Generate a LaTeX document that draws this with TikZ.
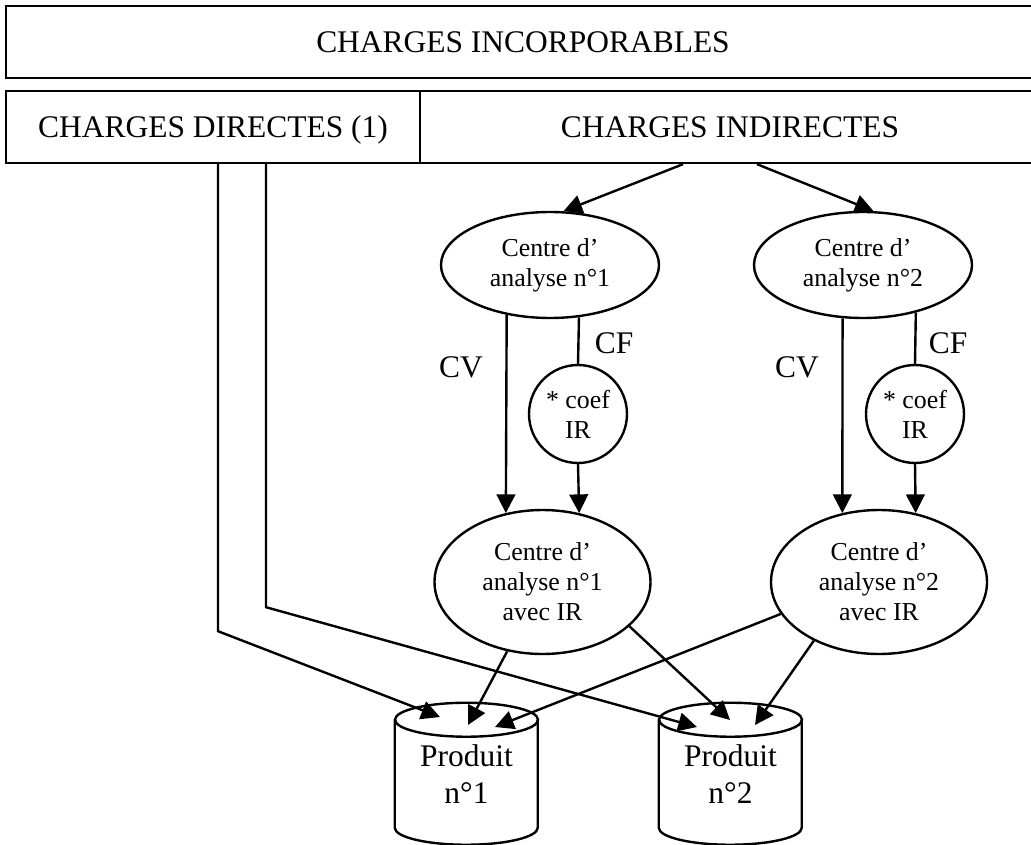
\documentclass[tikz,border=0pt]{standalone}
\usepackage{fontspec}
\setmainfont{Liberation Serif}
\usetikzlibrary{arrows.meta,shapes.geometric,calc}
\newcommand{\textegrand}{\fontsize{23.6}{27.4}\selectfont}
\newcommand{\textepetit}{\fontsize{19.4}{22.5}\selectfont}
\tikzset{
  trait/.style={line width=1.8pt},
  fleche/.style={trait, -{Triangle[length=14pt,width=14pt]}},
  boite/.style={draw, trait, minimum height=54pt, inner sep=0pt, text height=15.6pt, text depth=0pt, font=\textegrand},
  centre/.style={ellipse, draw, trait, inner sep=0pt, align=center, font=\textepetit},
  coef/.style={circle, draw, trait, minimum size=73.5pt, inner sep=0pt, align=center, font=\textepetit},
  produit/.style={minimum width=107.25pt, minimum height=106.5pt, inner sep=0pt, align=center, font=\textegrand},
  etiquette/.style={inner sep=0pt, font=\textegrand}
}

\begin{document}
\begin{tikzpicture}[x=0.75pt, y=-0.75pt]
  \useasboundingbox (0,0) rectangle (1031,845);
  % charges
  \node[boite, minimum width=775.5pt] (inc) at (523,42) {CHARGES INCORPORABLES};
  \node[boite, minimum width=310.5pt] (dir) at (213,127) {CHARGES DIRECTES (1)};
  \node[boite, minimum width=465pt] (ind) at (730,127) {CHARGES INDIRECTES};
  % centres d'analyse
  \node[centre, minimum width=163.5pt, minimum height=79.5pt] (A1) at (550,265) {Centre d’\\analyse n°1};
  \node[centre, minimum width=163.5pt, minimum height=79.5pt] (A2) at (863,265) {Centre d’\\analyse n°2};
  \node[coef] (C1) at (578,414) {* coef\\IR};
  \node[coef] (C2) at (915,414) {* coef\\IR};
  \node[centre, minimum width=162pt, minimum height=108pt] (B1) at (542.5,582) {Centre d’\\analyse n°1\\avec IR};
  \node[centre, minimum width=162pt, minimum height=108pt] (B2) at (879,582) {Centre d’\\analyse n°2\\avec IR};
  \node[etiquette] (cv1) at (461,367) {CV};
  \node[etiquette] (cf1) at (614,343) {CF};
  \node[etiquette] (cv2) at (797,367) {CV};
  \node[etiquette] (cf2) at (948,343) {CF};
  % produits
  \node[produit] (P1) at (466.5,774) {Produit\\n°1};
  \node[produit] (P2) at (730.5,774) {Produit\\n°2};
  \foreach \p in {P1,P2} {
    \draw[trait] (\p.north west) ++(0,17) -- ++(0,108)
      arc[start angle=180, end angle=0, x radius=71.5, y radius=17] -- ++(0,-108);
    \draw[trait] ($(\p.north)+(0,17)$) ellipse[x radius=71.5, y radius=17];
  }
  \coordinate (p1a) at (440,717);
  \coordinate (p1b) at (468,725);
  \coordinate (p1c) at (495,727);
  \coordinate (p2a) at (697,727);
  \coordinate (p2b) at (730,720);
  \coordinate (p2c) at (755,725);

  % arrows
  \draw[fleche] (ind.south) ++(-47,0) -- (A1.76);
  \draw[fleche] (ind.south) ++(27,0) -- (A2.79);
  \draw[fleche] (A1.229) -- (B1.118);
  \draw[trait] (A1.299) -- (C1.north);
  \draw[fleche] (C1.south) -- (B1.62);
  \draw[fleche] (A2.249) -- (B2.118);
  \draw[trait] (A2.318) -- (C2.north);
  \draw[fleche] (C2.south) -- (B2.62);
  \draw[fleche] (dir.south) ++(5,0) -- ++(0,467) -- (p1a);
  \draw[fleche] (dir.south) ++(53,0) -- ++(0,443) -- (p2a);
  \draw[fleche] (B1.243) -- (p1b);
  \draw[fleche] (B1.333) -- (p2b);
  \draw[fleche] (B2.198) -- (p1c);
  \draw[fleche] (B2.222) -- (p2c);
\end{tikzpicture}
\end{document}
